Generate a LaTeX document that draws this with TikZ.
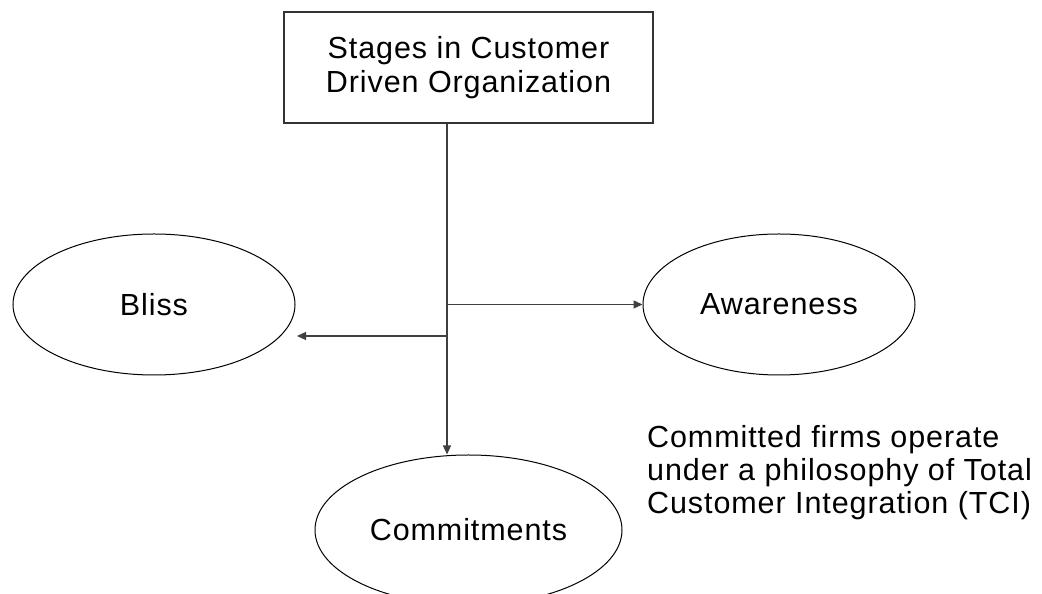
\documentclass[tikz,border=0pt]{standalone}
\usepackage{fontspec}
\setmainfont{Liberation Sans}[LetterSpace=3]
\usetikzlibrary{arrows.meta,shapes.geometric}
\begin{document}
\begin{tikzpicture}[x=1pt,y=1pt,
  lbl/.style={font=\fontsize{30.5}{34}\selectfont, text=black},
  boxst/.style={lbl, draw=black!80, line width=1.5pt, minimum width=369pt, minimum height=111pt, align=center, inner sep=0pt},
  ell/.style={lbl, ellipse, draw=black, line width=1pt, inner sep=0pt},
  arr/.style={draw=black!75, line width=1.3pt, -{Triangle[length=9pt,width=8pt]}}]
\useasboundingbox (0,0) rectangle (1042,594);
\node[boxst] (box) at (468.5,526.5) {Stages in Customer\\Driven Organization};
\node[ell, minimum width=282pt, minimum height=141pt] (bliss) at (154,289.5) {Bliss};
\node[ell, minimum width=272pt, minimum height=141pt] (aware) at (779,289.5) {Awareness};
\node[ell, minimum width=307pt, minimum height=150pt] (comm) at (468.5,64) {Commitments};
\node[lbl, font=\fontsize{30.5}{33}\selectfont, anchor=north west, align=left, inner sep=0pt] (note) at (647,169)
  {Committed firms operate\\under a philosophy of Total\\Customer Integration (TCI)};
\coordinate (vx) at (447,0);
\coordinate (j1) at (vx |- aware.west);
\coordinate (j2) at (447,258);
\coordinate (bl) at (297,258);
\draw[arr] (box.south -| vx) -- (vx |- comm.north);
\draw[arr] (j1) -- (aware.west);
\draw[arr] (j2) -- (bl);
\end{tikzpicture}
\end{document}
